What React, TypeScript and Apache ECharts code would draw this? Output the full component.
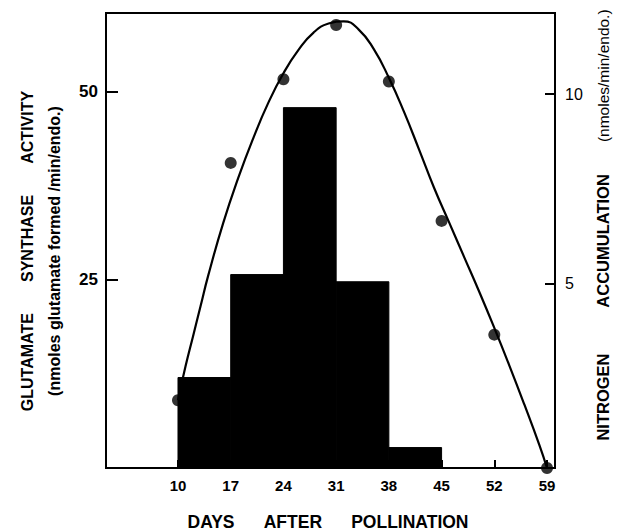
import React, { useEffect, useRef } from "react";
import * as echarts from "echarts";

// Histogram: nitrogen accumulation between sampling days (right axis)
const binEdges = [10, 17, 24, 31, 38, 45];
const nitrogen = [2.51, 5.23, 9.64, 5.04, 0.66];

// Glutamate synthase activity points (left axis)
const sampleDays = [10, 17, 24, 31, 38, 45, 52, 59];
const activity = [9.0, 40.5, 51.6, 58.8, 51.3, 32.8, 17.7, 0];

// Hand-drawn fitted curve
const curveDays = [10, 11, 12, 13, 14, 16, 18, 20, 22, 24, 26, 28, 30, 32, 34, 36, 38, 40, 42, 44, 46, 48, 50, 52, 54, 56, 58, 59];
const curveVals = [9, 13.5, 17.5, 21.5, 25.5, 32.5, 38.5, 43.8, 48.5, 52.4, 55.5, 57.8, 59.0, 59.3, 58.2, 55.6, 51.8, 47.3, 42.3, 37.2, 32.6, 28.0, 23.4, 18.6, 13.6, 8.4, 3.0, 0];

const xTicks = [10, 17, 24, 31, 38, 45, 52, 59];
const leftTicks = [25, 50];
const rightTicks = [5, 10];

const X_MIN = 0.44;
const X_MAX = 60.06;
const L_MIN = 0;
const L_MAX = 60.4;
const R_MIN = 0.12;
const R_MAX = 12.14;

const NB = "\u00a0";
const sp = (n: number) => NB.repeat(n);

export default function App() {
  const ref = useRef<HTMLDivElement>(null);
  useEffect(() => {
    if (!ref.current) return;
    const chart = echarts.init(ref.current, null, { renderer: "svg" });
    const bars = nitrogen.map((v, i) => [binEdges[i], binEdges[i + 1], v]);
    const font = "Liberation Sans, Arial, sans-serif";
    chart.setOption({
      animation: false,
      backgroundColor: "#fff",
      grid: {
        left: 106,
        top: 13,
        right: 63,
        bottom: 63,
        show: true,
        borderColor: "#000",
        borderWidth: 2,
        backgroundColor: "transparent",
        outerBoundsMode: "none",
      },
      xAxis: {
        type: "value",
        min: X_MIN,
        max: X_MAX,
        axisLine: { show: false },
        splitLine: { show: false },
        axisTick: {
          show: true,
          inside: true,
          length: 8,
          customValues: xTicks,
          lineStyle: { color: "#000", width: 2 },
        },
        axisLabel: {
          customValues: xTicks,
          color: "#000",
          fontFamily: font,
          fontWeight: "bold",
          fontSize: 15,
          margin: 10,
        },
      },
      yAxis: [
        {
          type: "value",
          min: L_MIN,
          max: L_MAX,
          axisLine: { show: false },
          splitLine: { show: false },
          axisTick: {
            show: true,
            inside: true,
            length: 12,
            customValues: leftTicks,
            lineStyle: { color: "#000", width: 2 },
          },
          axisLabel: {
            customValues: leftTicks,
            color: "#000",
            fontFamily: font,
            fontWeight: "bold",
            fontSize: 17,
            margin: 8,
          },
        },
        {
          type: "value",
          position: "right",
          min: R_MIN,
          max: R_MAX,
          axisLine: { show: false },
          splitLine: { show: false },
          axisTick: {
            show: true,
            inside: true,
            length: 10,
            customValues: rightTicks,
            lineStyle: { color: "#000", width: 2 },
          },
          axisLabel: {
            customValues: rightTicks,
            color: "#000",
            fontFamily: font,
            fontSize: 16,
            margin: 10,
          },
        },
      ],
      series: [
        {
          type: "line",
          data: curveDays.map((d, i) => [d, curveVals[i]]),
          smooth: 0.5,
          showSymbol: false,
          lineStyle: { color: "#000", width: 2.2 },
          z: 2,
          silent: true,
        },
        {
          type: "custom",
          yAxisIndex: 1,
          data: bars,
          encode: { x: [0, 1], y: 2 },
          z: 3,
          renderItem: (params: any, api: any) => {
            const p0 = api.coord([api.value(0), api.value(2)]);
            const p1 = api.coord([api.value(1), R_MIN]);
            return {
              type: "rect",
              shape: { x: p0[0], y: p0[1], width: p1[0] - p0[0], height: p1[1] - p0[1] },
              style: { fill: "#000", stroke: "#000", lineWidth: 1 },
            };
          },
        },
        {
          type: "scatter",
          data: sampleDays.map((d, i) => [d, activity[i]]),
          symbol: "circle",
          symbolSize: 12,
          itemStyle: { color: "#000" },
          z: 4,
        },
      ],
      graphic: [
        {
          type: "text",
          x: 27,
          y: 251,
          rotation: Math.PI / 2,
          style: {
            text: `GLUTAMATE${sp(7)}SYNTHASE${sp(7)}ACTIVITY`,
            font: `bold 16px ${font}`,
            fill: "#000",
            align: "center",
            verticalAlign: "middle",
          },
        },
        {
          type: "text",
          x: 54,
          y: 251,
          rotation: Math.PI / 2,
          style: {
            text: "(nmoles glutamate formed /min/endo.)",
            font: `bold 16px ${font}`,
            fill: "#000",
            align: "center",
            verticalAlign: "middle",
          },
        },
        {
          type: "text",
          x: 603,
          y: 225,
          rotation: Math.PI / 2,
          style: {
            rich: {
              b: { font: `bold 16.5px ${font}`, fill: "#000" },
              r: { font: `15.5px ${font}`, fill: "#000" },
            },
            text: `{b|NITROGEN${sp(10)}ACCUMULATION${sp(7)}}{r|(nmoles/min/endo.)}`,
            align: "center",
            verticalAlign: "middle",
          },
        },
        {
          type: "text",
          x: 328,
          y: 522,
          style: {
            text: `DAYS${sp(6)}AFTER${sp(6)}POLLINATION`,
            font: `bold 17.5px ${font}`,
            fill: "#000",
            align: "center",
            verticalAlign: "middle",
          },
        },
      ],
    });
    return () => chart.dispose();
  }, []);
  return (
    <div
      ref={ref}
      style={{ position: "fixed", left: 0, top: 0, width: 618, height: 531, background: "#fff" }}
    />
  );
}
